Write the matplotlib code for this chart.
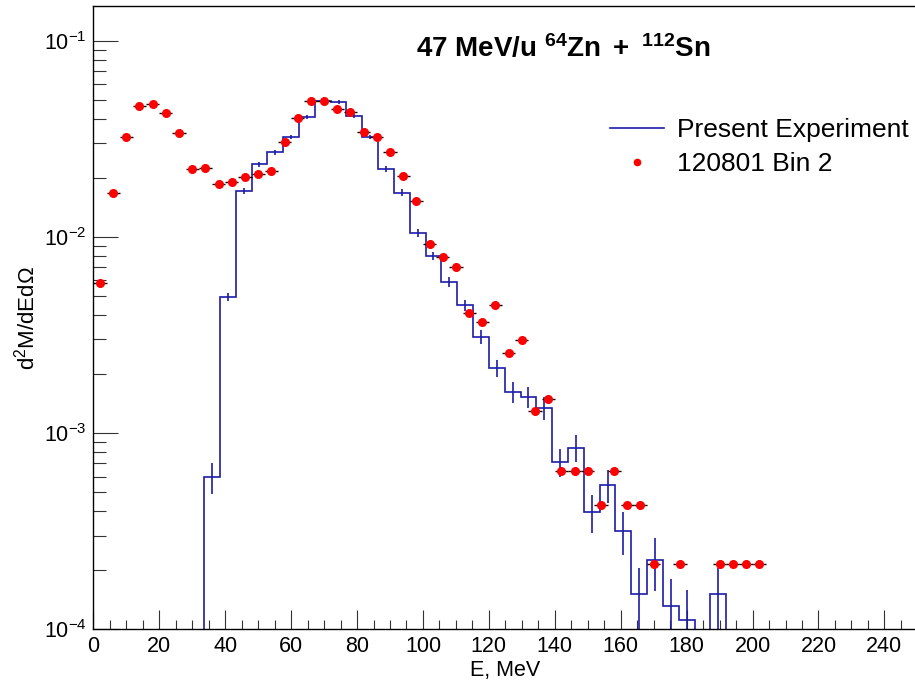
import numpy as np
import matplotlib
matplotlib.use("Agg")
import matplotlib.pyplot as plt
from matplotlib.ticker import MultipleLocator, LogLocator, NullFormatter
from matplotlib.lines import Line2D

plt.rcParams['font.family'] = ['Liberation Sans', 'DejaVu Sans']
plt.rcParams['mathtext.fontset'] = 'custom'
plt.rcParams['mathtext.rm'] = 'Liberation Sans'
plt.rcParams['mathtext.it'] = 'Liberation Sans:italic'
plt.rcParams['mathtext.bf'] = 'Liberation Sans:bold'

# Present experiment histogram, 4.8 MeV bins starting at 0
bin_width = 4.8
hist_vals = [0, 0, 0, 0, 0, 0, 0,
             5.97e-4, 4.94e-3, 1.71e-2, 2.34e-2, 2.70e-2, 3.22e-2, 4.07e-2,
             4.93e-2, 4.88e-2, 4.13e-2, 3.22e-2, 2.215e-2, 1.68e-2, 1.05e-2,
             8.02e-3, 5.88e-3, 4.48e-3, 3.09e-3, 2.14e-3, 1.62e-3, 1.53e-3,
             1.34e-3, 7.14e-4, 8.43e-4, 3.96e-4, 5.43e-4, 3.18e-4, 1.51e-4,
             2.25e-4, 1.32e-4, 1.12e-4, 0, 1.51e-4,
             0, 0, 0, 0, 0, 0, 0, 0, 0, 0, 0, 0]
hist_errs = [0, 0, 0, 0, 0, 0, 0,
             1.05e-4, 0.22e-3, 0.57e-3, 0.69e-3, 0.79e-3, 0.77e-3, 0.97e-3,
             0.87e-3, 1.17e-3, 0.98e-3, 0.77e-3, 0.70e-3, 0.70e-3, 0.47e-3,
             0.38e-3, 0.35e-3, 0.27e-3, 0.25e-3, 0.21e-3, 0.19e-3, 0.19e-3,
             0.18e-3, 1.2e-4, 1.3e-4, 0.87e-4, 1.03e-4, 0.78e-4, 0.54e-4,
             0.68e-4, 0.48e-4, 0.47e-4, 0, 0.54e-4,
             0, 0, 0, 0, 0, 0, 0, 0, 0, 0, 0, 0]

# 120801 Bin 2 points
pts_E = [2, 6, 10, 14, 18, 22, 26, 30, 34, 38, 42, 46, 50, 54, 58, 62, 66, 70,
         74, 78, 82, 86, 90, 94, 98, 102, 106, 110, 114, 118, 122, 126, 130,
         134, 138, 142, 146, 150, 154, 158, 162, 166, 170, 178, 190, 194, 198, 202]
pts_val = [5.82e-3, 1.667e-2, 3.22e-2, 4.65e-2, 4.75e-2, 4.27e-2, 3.40e-2,
           2.22e-2, 2.245e-2, 1.862e-2, 1.905e-2, 2.014e-2, 2.10e-2, 2.168e-2,
           3.03e-2, 4.01e-2, 4.93e-2, 4.90e-2, 4.47e-2, 4.30e-2, 3.44e-2,
           3.24e-2, 2.72e-2, 2.05e-2, 1.531e-2, 9.21e-3, 7.93e-3, 7.03e-3,
           4.08e-3, 3.66e-3, 4.49e-3, 2.57e-3, 2.99e-3, 1.29e-3, 1.50e-3,
           6.41e-4, 6.41e-4, 6.41e-4, 4.28e-4, 6.41e-4, 4.28e-4, 4.28e-4,
           2.14e-4, 2.14e-4, 2.14e-4, 2.14e-4, 2.14e-4, 2.14e-4]
pts_xerr = 2.0

hist_color = '#1c1ca8'

fig = plt.figure(figsize=(9.15, 6.83), dpi=100)
ax = fig.add_axes([0.102, 0.0786, 0.9006, 0.9126])
ax.set_yscale('log')

vals = np.array(hist_vals)
errs = np.array(hist_errs)
edges = np.arange(len(vals) + 1) * bin_width
centers = edges[:-1] + bin_width / 2
ax.stairs(np.where(vals > 0, vals, 1e-9), edges, color=hist_color, lw=1.2,
          baseline=None)
nz = vals > 0
lo = np.minimum(errs[nz], vals[nz] - 1e-9)
ax.errorbar(centers[nz], vals[nz], yerr=[lo, errs[nz]], fmt='none',
            ecolor=hist_color, elinewidth=1.2, capsize=0)

ax.errorbar(pts_E, pts_val, xerr=pts_xerr, fmt='o', color='red', ms=5.5,
            mec='red', ecolor='black', elinewidth=1, capsize=0, zorder=5)

ax.set_xlim(0, 250)
ax.set_ylim(1e-4, 0.15)

ax.xaxis.set_major_locator(MultipleLocator(20))
ax.xaxis.set_minor_locator(MultipleLocator(5))
ax.yaxis.set_major_locator(LogLocator(base=10))
ax.yaxis.set_minor_locator(LogLocator(base=10, subs=np.arange(2, 10)))
ax.yaxis.set_minor_formatter(NullFormatter())
ax.tick_params(axis='both', which='both', direction='in', top=False,
               right=False, labelsize=15.5, width=0.8, color='#333333', pad=5)
ax.tick_params(axis='x', which='major', length=13.5)
ax.tick_params(axis='x', which='minor', length=6.7)
ax.tick_params(axis='y', which='major', length=18)
ax.tick_params(axis='y', which='minor', length=9.4)
ax.spines['right'].set_visible(False)
for s in ['left', 'bottom', 'top']:
    ax.spines[s].set_linewidth(1.0)

ax.set_xlabel('E, MeV', fontsize=15.5, labelpad=2)
ax.set_ylabel('d$^{2}$M/dEdΩ', fontsize=16, labelpad=3)

fig.text(563 / 915, 1 - 57.3 / 683,
         r'$\mathbf{47\ MeV/u\ ^{64}Zn\ +\ ^{112}Sn}$',
         ha='center', va='baseline', fontsize=20)

handles = [Line2D([], [], color=hist_color, lw=1.2),
           Line2D([], [], ls='none', marker='o', color='red', ms=4.5)]
ax.legend(handles, ['Present Experiment', '120801 Bin 2'], loc='upper left',
          bbox_to_anchor=(610 / 915, 1 - 118 / 683),
          bbox_transform=fig.transFigure, frameon=False, fontsize=19,
          handlelength=2.05, handletextpad=0.5, borderpad=0, borderaxespad=0,
          labelspacing=0.38)

fig.savefig('out.png', dpi=100)
